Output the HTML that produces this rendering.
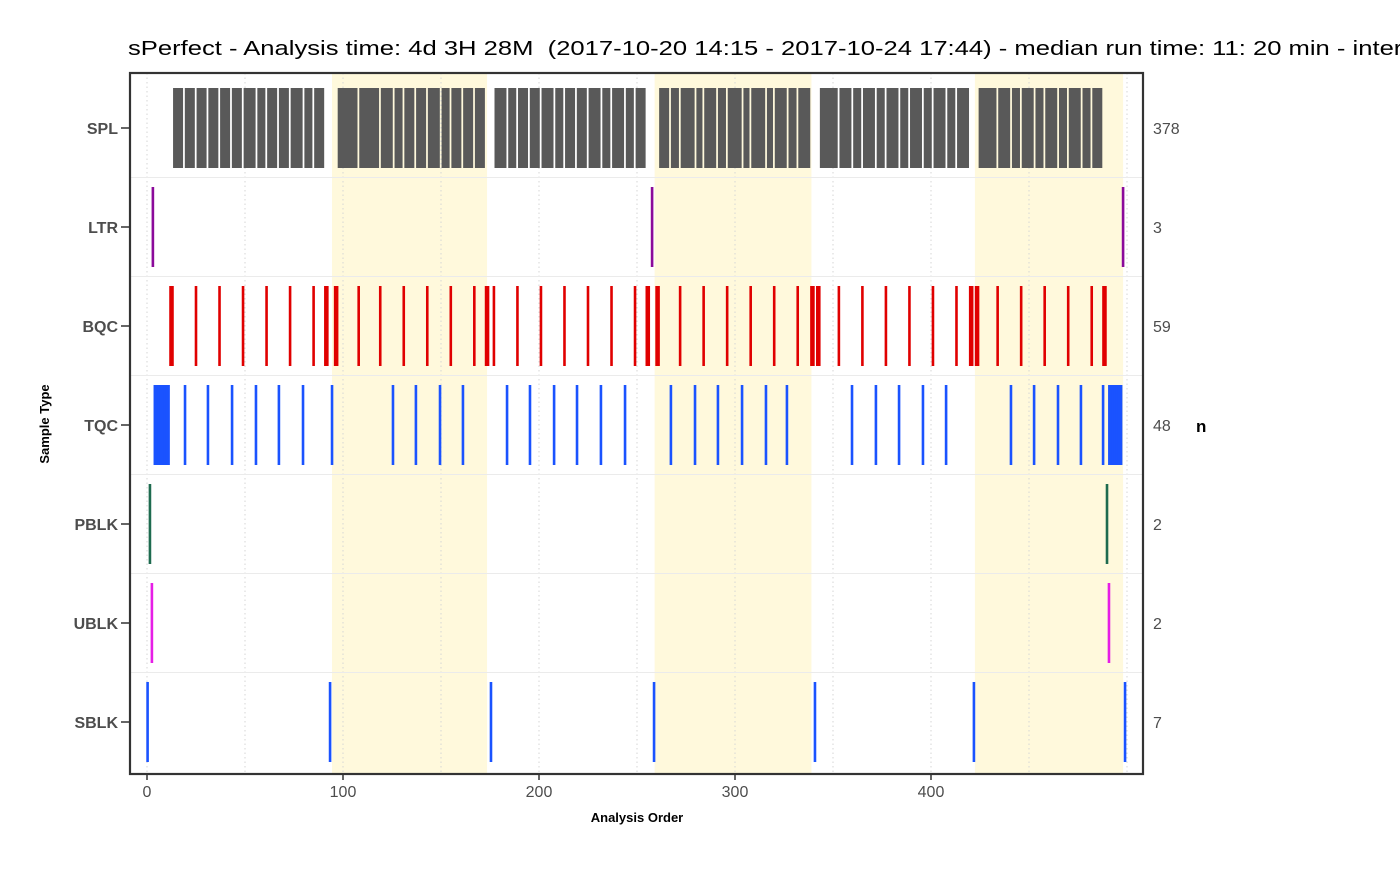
<!DOCTYPE html>
<html><head><meta charset="utf-8"><style>
body{margin:0;background:#fff;overflow:hidden}
svg text{font-family:"Liberation Sans",Arial,sans-serif}
</style></head><body>
<svg id="chart" width="1400" height="865" viewBox="0 0 1400 865" xmlns="http://www.w3.org/2000/svg">
<text x="128" y="55" font-size="20" fill="#000" xml:space="preserve" transform="translate(128,0) scale(1.28,1) translate(-128,0)">sPerfect - Analysis time: 4d 3H 28M  (2017-10-20 14:15 - 2017-10-24 17:44) - median run time: 11: 20 min - interval: 1 h</text>
<g id="plot"></g>
<text x="637" y="822" font-size="13" font-weight="bold" text-anchor="middle">Analysis Order</text>
<text transform="translate(49,424) rotate(-90)" font-size="13" font-weight="bold" text-anchor="middle">Sample Type</text>
<text x="1196" y="432" font-size="17" font-weight="bold">n</text>
</svg>
<script>
const categories = ["SPL","LTR","BQC","TQC","PBLK","UBLK","SBLK"];
const counts = [378,3,59,48,2,2,7];
const colors = ["#595959","#8b0a9a","#e00000","#1a53ff","#1e6b4f","#e61ee6","#1a53ff"];
const xTicks = [0,100,200,300,400];
const splRuns = [[14,91],[98,173],[178,255],[261,339],[343,419],[424,487]];
const ltr = [3,257.7,498];
const bqc = [12,13,25,37,49,61,73,85,91,92,96,97,108,119,131,143,155,167,173,174,177,189,201,213,225,237,249,255,256,260,261,272,284,296,308,320,332,339,340,342,343,353,365,377,389,401,413,420,421,423,424,434,446,458,470,482,488,489];
const tqc = [4,5,6,7,8,9,10,11,19.4,31.1,43.4,55.6,67.3,79.6,94.4,125.5,137.2,149.5,161.2,183.7,195.4,207.7,219.4,231.6,243.9,267.3,279.6,291.3,303.6,315.8,326.5,359.7,371.9,383.7,395.9,407.7,440.8,452.6,464.8,476.5,487.8,491,492,493,494,495,496,497];
const pblk = [1.5,489.8];
const ublk = [2.5,490.8];
const sblk = [0.3,93.4,175.5,258.7,340.8,421.9,499];
const nightBands = [[94.4,173.5],[259,339],[422.4,498]];

const NS="http://www.w3.org/2000/svg";
const L=130,R=1143,T=73,B=774;
const x=u=>147+u*1.96;
const rowH=99;
const y=i=>128+i*rowH;
const g=document.getElementById('plot');
function mk(t,a){const e=document.createElementNS(NS,t);for(const k in a)e.setAttribute(k,a[k]);return e;}

nightBands.forEach(b=>{const r=mk('rect',{x:x(b[0]),y:T,width:x(b[1])-x(b[0]),height:B-T,fill:'#fff9dc'});


g.appendChild(r);});
for(let v=0;v<=500;v+=50){const l=mk('line',{x1:x(v),x2:x(v),y1:T,y2:B,stroke:'#d6d6d6','stroke-width':1,'stroke-dasharray':'1.5,3'});


g.appendChild(l);}
for(let i=0;i<6;i++){const l=mk('line',{x1:L,x2:R,y1:y(i)+rowH/2,y2:y(i)+rowH/2,stroke:'#ebebeb','stroke-width':1});


g.appendChild(l);}
const qc=new Set(bqc.concat(tqc).map(Math.round));
splRuns.forEach(r=>{let s=null;
for(let k=r[0];k<=r[1]+1;k++){const isS=k<=r[1]&&!qc.has(k);
if(isS&&s===null)s=k;
if(!isS&&s!==null){
const t=mk('rect',{x:x(s-0.5)-0.4,y:y(0)-40,width:x(k-0.5)-x(s-0.5)+0.2,height:80,fill:colors[0]});


g.appendChild(t);s=null;}}});
const series=[null,ltr,bqc,tqc,pblk,ublk,sblk];
series.forEach((s,i)=>{if(!s)return;s.forEach(v=>{
const r=mk('rect',{x:x(v)-1.3,y:y(i)-40,width:2.6,height:80,fill:colors[i]});


g.appendChild(r);});});
const bd=mk('rect',{x:L,y:T,width:R-L,height:B-T,fill:'none',stroke:'#333','stroke-width':2.2});


g.appendChild(bd);
categories.forEach((c,i)=>{
const t=mk('text',{x:118,y:y(i)+6,'font-size':16,'font-weight':'bold','text-anchor':'end',fill:'#4d4d4d'});t.textContent=c;


g.appendChild(t);
const tk=mk('line',{x1:121,x2:130,y1:y(i),y2:y(i),stroke:'#333','stroke-width':1.5});


g.appendChild(tk);
const n=mk('text',{x:1153,y:y(i)+6,'font-size':16,fill:'#4d4d4d'});n.textContent=counts[i];


g.appendChild(n);});
xTicks.forEach(v=>{
const tk=mk('line',{x1:x(v),x2:x(v),y1:B,y2:B+6,stroke:'#333','stroke-width':1.5});


g.appendChild(tk);
const t=mk('text',{x:x(v),y:797,'font-size':16,'text-anchor':'middle',fill:'#4d4d4d'});t.textContent=v;


g.appendChild(t);});
</script>
</body></html>
